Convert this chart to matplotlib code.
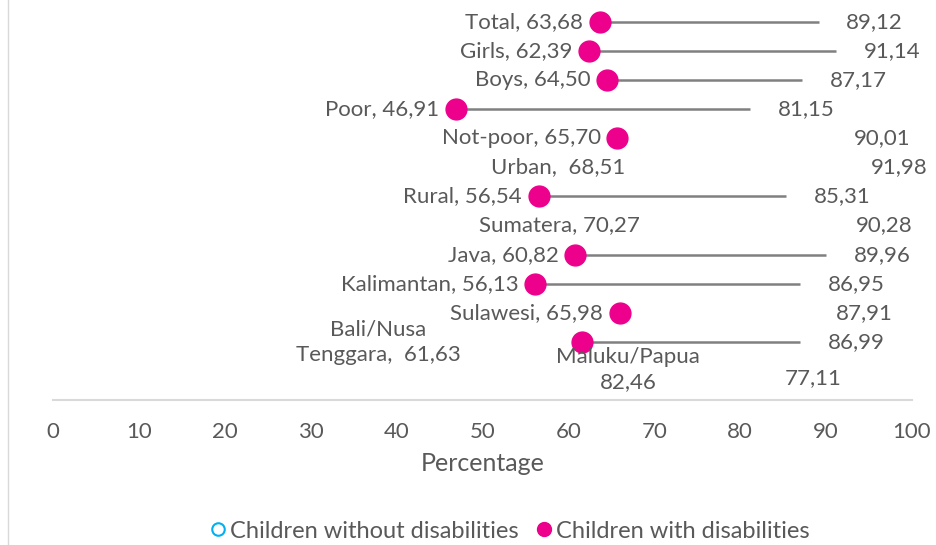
import matplotlib
matplotlib.use("Agg")
import matplotlib.pyplot as plt
from matplotlib.lines import Line2D

plt.rcParams['font.family'] = ['Lato', 'DejaVu Sans']

# data
categories = ["Total", "Girls", "Boys", "Poor", "Not-poor", "Urban", "Rural",
              "Sumatera", "Java", "Kalimantan", "Sulawesi",
              "Bali/Nusa Tenggara", "Maluku/Papua"]
with_dis = [63.68, 62.39, 64.50, 46.91, 65.70, 68.51, 56.54,
            70.27, 60.82, 56.13, 65.98, 61.63, 82.46]
without_dis = [89.12, 91.14, 87.17, 81.15, 90.01, 91.98, 85.31,
               90.28, 89.96, 86.95, 87.91, 86.99, 77.11]
# the original chart only drew some of the dots / connector lines
dot_shown = [True, True, True, True, True, False, True,
             False, True, True, True, True, False]
line_shown = [True, True, True, True, False, False, True,
              False, True, True, False, True, False]

# label text for the left-hand labels (as they appear)
left_text = ["Total, 63,68", "Girls, 62,39", "Boys, 64,50", "Poor, 46,91",
             "Not-poor, 65,70", "Urban,  68,51", "Rural, 56,54",
             "Sumatera, 70,27", "Java, 60,82", "Kalimantan, 56,13",
             "Sulawesi, 65,98", "Bali/Nusa\nTenggara,  61,63",
             "Maluku/Papua\n82,46"]

pink = "#EC008C"
cyan = "#00B0F0"
grey = "#595959"
fs = 16

fig = plt.figure(figsize=(9.37, 5.45), dpi=100)
ax = fig.add_axes([53 / 937, 1 - 400 / 545, (912 - 53) / 937, 400 / 545])

rows = list(range(len(categories)))

for i in rows:
    if line_shown[i]:
        ax.plot([with_dis[i], without_dis[i]], [i, i], color="#808080", lw=1.8,
                zorder=2, solid_capstyle="butt")
    if dot_shown[i]:
        ax.plot(with_dis[i], i, "o", color=pink, ms=15, zorder=3)

    # left label
    if categories[i] == "Bali/Nusa Tenggara":
        ax.annotate(left_text[i], (with_dis[i], i), xytext=(-147, 0),
                    textcoords="offset points", ha="center", va="center",
                    fontsize=fs, color=grey, linespacing=1.35)
    elif categories[i] == "Maluku/Papua":
        ax.annotate(left_text[i], (with_dis[i], i), xytext=(-96, 1),
                    textcoords="offset points", ha="center", va="center",
                    fontsize=fs, color=grey, linespacing=1.3)
    else:
        ax.annotate(left_text[i], (with_dis[i], i), xytext=(-12, 0),
                    textcoords="offset points", ha="right", va="center",
                    fontsize=fs, color=grey)

    # right label
    dx, dy = (20, 0)
    if categories[i] == "Maluku/Papua":
        dx, dy = (50, -5)
    ax.annotate(f"{without_dis[i]:.2f}".replace(".", ","), (without_dis[i], i),
                xytext=(dx, dy), textcoords="offset points", ha="left",
                va="center", fontsize=fs, color=grey)

ax.set_xlim(0, 100)
ax.set_ylim(13, -0.756)
ax.set_xticks(range(0, 101, 10))
ax.set_yticks([])
ax.tick_params(axis="x", length=0, pad=16, labelsize=fs, labelcolor=grey)
for s in ["left", "right", "top"]:
    ax.spines[s].set_visible(False)
ax.spines["bottom"].set_color("#d9d9d9")
ax.spines["bottom"].set_linewidth(1.5)
ax.set_xlabel("Percentage", fontsize=18, color=grey, labelpad=7)
ax.patch.set_visible(False)

# chart border on the left
fig.add_artist(Line2D([8 / 937, 8 / 937], [0, 1], color="#d9d9d9", lw=1))

handles = [Line2D([], [], marker="o", ls="", mfc="white", mec=cyan, mew=1.5, ms=9),
           Line2D([], [], marker="o", ls="", color=pink, ms=10)]
fig.legend(handles, ["Children without disabilities", "Children with disabilities"],
           loc="center", bbox_to_anchor=(508 / 937, 1 - 531 / 545), ncol=2,
           frameon=False, fontsize=fs + 1, labelcolor=grey, handletextpad=0.0,
           columnspacing=0.6, handlelength=1.0)

fig.savefig("out.png", dpi=100)
